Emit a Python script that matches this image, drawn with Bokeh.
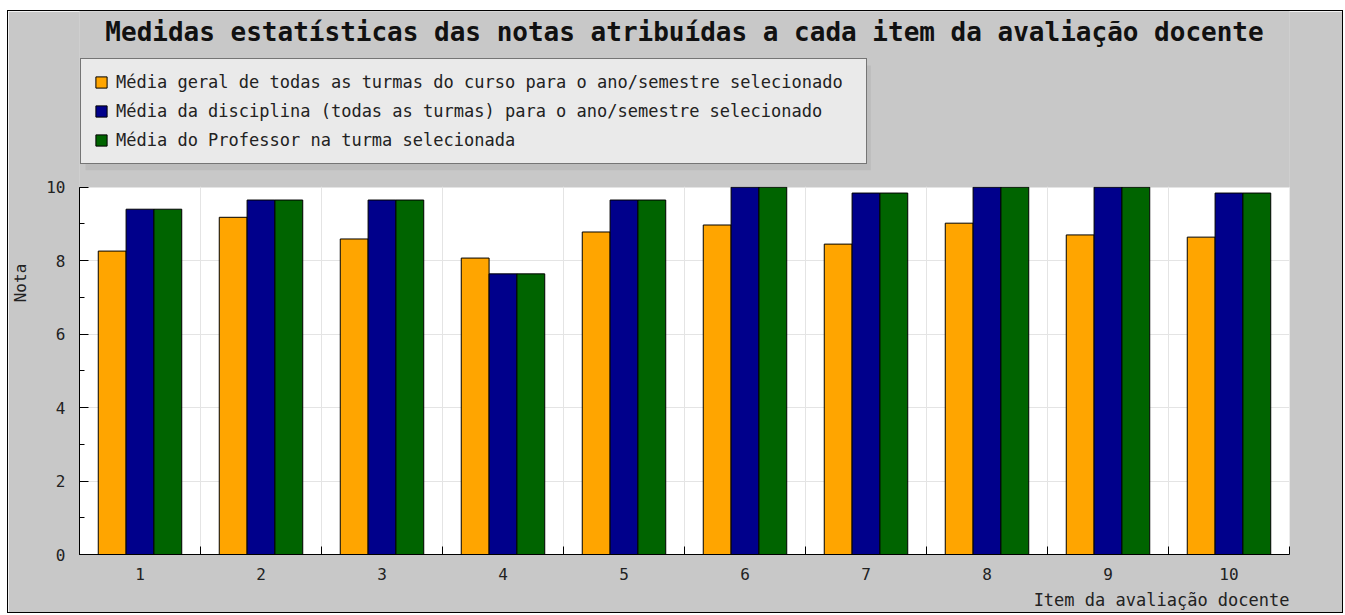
from bokeh.plotting import figure
from bokeh.models import (ColumnDataSource, FixedTicker, Legend, LegendItem, Title, Label,
                          SingleIntervalTicker, Range1d, BoxAnnotation)
from bokeh.transform import dodge
from bokeh.embed import file_html
from bokeh.resources import INLINE

items = list(range(1, 11))
media_geral = [8.26, 9.18, 8.59, 8.07, 8.78, 8.97, 8.45, 9.02, 8.70, 8.64]
media_disciplina = [9.40, 9.65, 9.65, 7.64, 9.65, 10.0, 9.84, 10.0, 10.0, 9.84]
media_professor = [9.40, 9.65, 9.65, 7.64, 9.65, 10.0, 9.84, 10.0, 10.0, 9.84]
series_names = [
    "Média geral de todas as turmas do curso para o ano/semestre selecionado",
    "Média da disciplina (todas as turmas) para o ano/semestre selecionado",
    "Média do Professor na turma selecionada",
]
colors = ["#FFA500", "#00008B", "#006400"]
title_text = "Medidas estatísticas das notas atribuídas a cada item da avaliação docente"
x_label = "Item da avaliação docente"
y_label = "Nota"
y_min, y_max = 0, 10

FONT = "DejaVu Sans Mono"
GRAY = "#c8c8c8"

src = ColumnDataSource(dict(x=items, geral=media_geral, disc=media_disciplina, prof=media_professor))

# frame extends to the top of the canvas; only the part up to y_max is white
frame_h_px = 544.0   # frame height in pixels
value_h_px = 368.0   # pixels between 0 and y_max
frame_w_px = 1211.0
y_top = y_max * frame_h_px / value_h_px
px_y = y_max / value_h_px          # data units per vertical pixel
px_x = 10.0 / frame_w_px           # data units per horizontal pixel

p = figure(width=1336, height=603, output_backend="svg", toolbar_location=None,
           title_location=None,
           x_range=Range1d(0.5, 10.5), y_range=Range1d(y_min, y_top),
           min_border_left=70, min_border_right=55, min_border_top=0, min_border_bottom=57)
p.styles = {"border": "1px solid black"}
p.margin = (10, 0, 0, 7)
p.background_fill_color = GRAY
p.border_fill_color = GRAY
p.outline_line_color = None

# white plotting area (0..y_max), drawn beneath grid and bars
plot_bg = BoxAnnotation(bottom=y_min - 1, top=y_max, left=-1, right=12, fill_color="white",
                        fill_alpha=1.0, line_color=None, level="image")
p.add_layout(plot_bg)

w = 0.23
cols = ["geral", "disc", "prof"]
offs = [-w, 0.0, w]
renderers = []
for c, o, col in zip(cols, offs, colors):
    r = p.vbar(x=dodge("x", o), top=c, width=w, source=src, fill_color=col,
               line_color="black", line_width=1)
    renderers.append(r)

# hide grid lines above y_max
cover = BoxAnnotation(bottom=y_max + 0.015, top=y_top + 2, left=-1, right=12,
                      fill_color=GRAY, fill_alpha=1.0, line_color=None)
p.add_layout(cover)

# legend shadow
shadow = BoxAnnotation(left=0.5 + 6 * px_x, right=0.5 + 792 * px_x,
                       bottom=y_max + 17 * px_y, top=y_max + 122 * px_y,
                       fill_color="#bcbcbc", fill_alpha=1.0, line_color=None)
p.add_layout(shadow)

# axes
xa = p.xaxis[0]
xa.ticker = FixedTicker(ticks=items, minor_ticks=[i + 0.5 for i in range(0, 11)])
xa.major_tick_in = 0
xa.major_tick_out = 0
xa.minor_tick_in = 8
xa.minor_tick_out = 0
xa.axis_line_color = "black"
xa.minor_tick_line_color = "black"
xa.major_label_text_font = FONT
xa.major_label_text_font_size = "16px"
xa.major_label_text_color = "#222222"
xa.major_label_standoff = 13

ya = p.yaxis[0]
ya.ticker = SingleIntervalTicker(interval=2, num_minor_ticks=2)
ya.bounds = (y_min, y_max)
ya.major_tick_in = 9
ya.major_tick_out = 0
ya.minor_tick_in = 5
ya.minor_tick_out = 0
ya.axis_line_color = "black"
ya.major_tick_line_color = "black"
ya.minor_tick_line_color = "black"
ya.major_label_text_font = FONT
ya.major_label_text_font_size = "16px"
ya.major_label_text_color = "#222222"
ya.major_label_standoff = 14
ya.axis_label = y_label
ya.axis_label_text_font = FONT
ya.axis_label_text_font_size = "16px"
ya.axis_label_text_font_style = "normal"
ya.axis_label_text_color = "#222222"
ya.axis_label_standoff = 13

p.xgrid.ticker = FixedTicker(ticks=[i + 0.5 for i in range(1, 10)])
p.xgrid.grid_line_color = "#e4e4e4"
p.ygrid.grid_line_color = "#e4e4e4"

legend = Legend(items=[LegendItem(label=n, renderers=[r]) for n, r in zip(series_names, renderers)],
                location=(1, 390), orientation="vertical")
legend.border_line_color = "black"
legend.border_line_width = 1.5
legend.background_fill_color = "#eaeaea"
legend.background_fill_alpha = 1
legend.label_text_font = FONT
legend.label_text_font_size = "17px"
legend.label_text_color = "#222222"
legend.glyph_width = 14
legend.glyph_height = 14
legend.label_height = 20
legend.label_width = 737
legend.spacing = 9
legend.padding = 13
legend.margin = 0
legend.label_standoff = 8
p.add_layout(legend)

title = Label(x=5.5, y=y_max + 155 * px_y, text=title_text,
              text_align="center", text_baseline="middle", text_font=FONT,
              text_font_size="26px", text_font_style="bold", text_color="#111111")
p.add_layout(title)

xl = Title(text=x_label, align="right", text_font=FONT, text_font_size="17px",
           text_font_style="normal", text_color="#222222")
p.add_layout(xl, "below")

open("out.html", "w").write(file_html(p, INLINE))
